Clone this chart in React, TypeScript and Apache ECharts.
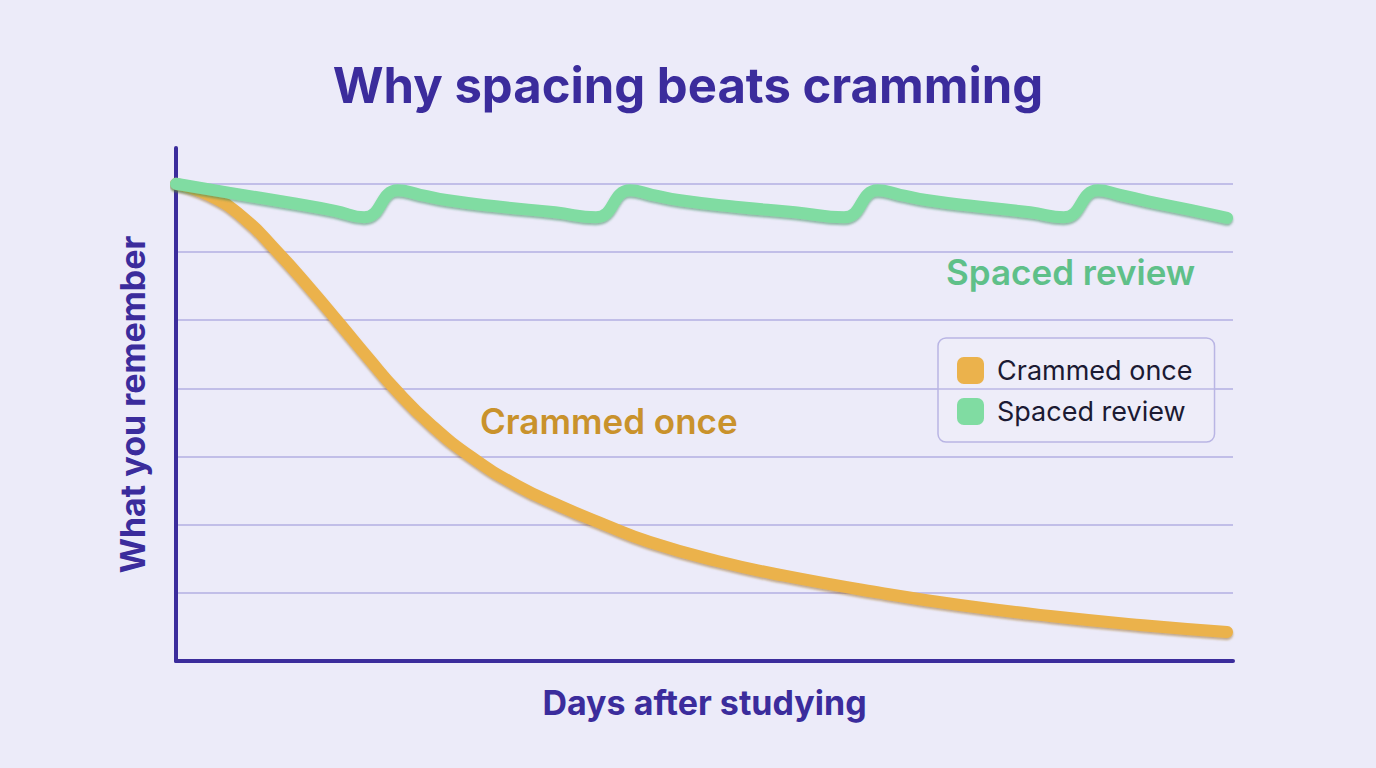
import React, { useEffect, useRef } from "react";
import * as echarts from "echarts";

const titleText = "Why spacing beats cramming";
const xAxisName = "Days after studying";
const yAxisName = "What you remember";
const seriesNames = ["Crammed once", "Spaced review"];

// days after studying, % remembered
const crammedDays = [0, 0.94, 1.9, 2.84, 3.78, 4.63, 5.48, 6.24, 7.21, 8.4, 9.68, 10.9, 12.12, 13.45, 15.36, 17.23, 20.01, 22.25, 24.81, 27.36, 29.83];
const crammedValues = [100, 97.6, 92.98, 86.06, 78.3, 70.86, 63.31, 56.81, 49.69, 42.66, 36.79, 32.49, 28.72, 24.95, 20.96, 17.92, 14.26, 11.74, 9.43, 7.55, 6.08];

const spacedDays = [0, 1.53, 3.24, 4.51, 5.34, 6.3, 6.93, 7.72, 9.2, 10.76, 11.92, 12.89, 13.51, 14.31, 15.87, 17.57, 18.96, 19.92, 20.55, 21.34, 22.82, 24.24, 25.2, 26.17, 26.79, 27.59, 28.78, 29.83];
const spacedValues = [100, 98.11, 96.02, 94.34, 92.98, 98.64, 97.69, 96.54, 95.18, 94.03, 92.98, 98.64, 97.69, 96.54, 95.18, 94.03, 92.98, 98.64, 97.69, 96.54, 95.18, 94.03, 92.98, 98.64, 97.69, 96.33, 94.55, 92.87];

const xMin = 0;
const xMax = 30;
const yMin = 0;
const yMax = 107.5;
const yStep = 100 / 7;

const INK = "#3b2c9c";
const ORANGE = "#ebb24c";
const GREEN = "#80dca2";
const FONT = "Inter, 'Noto Sans', sans-serif";

export default function App() {
  const ref = useRef<HTMLDivElement>(null);
  useEffect(() => {
    document.body.style.margin = "0";
    const chart = echarts.init(ref.current!, undefined, { renderer: "svg" });
    const pairs = (xs: number[], ys: number[]) => xs.map((x, i) => [x, ys[i]]);
    chart.setOption({
      animation: false,
      backgroundColor: "#ecebf9",
      textStyle: { fontFamily: FONT },
      title: {
        text: titleText,
        left: "center",
        top: 56,
        textStyle: { fontFamily: FONT, fontSize: 49, fontWeight: 700, color: INK },
      },
      grid: { left: 176, right: 143, top: 148, bottom: 107, containLabel: false },
      legend: {
        orient: "vertical",
        left: 938,
        top: 338,
        padding: [19, 22, 17, 19],
        itemWidth: 27,
        itemHeight: 27,
        itemGap: 14,
        icon: "roundRect",
        backgroundColor: "rgba(255,255,255,0.12)",
        borderColor: "#b9b5e4",
        borderWidth: 1.5,
        borderRadius: 8,
        itemStyle: { borderWidth: 0, shadowBlur: 0 },
        textStyle: { fontFamily: FONT, fontSize: 27, color: "#1b1a33", padding: [0, 0, 0, 8] },
        data: seriesNames,
      },
      xAxis: {
        type: "value",
        min: xMin,
        max: xMax,
        name: xAxisName,
        nameLocation: "middle",
        nameGap: 24,
        nameTextStyle: { fontFamily: FONT, fontSize: 34, fontWeight: 700, color: INK },
        axisLine: { show: true, lineStyle: { color: INK, width: 4, cap: "round" } },
        axisTick: { show: false },
        axisLabel: { show: false },
        splitLine: { show: false },
      },
      yAxis: {
        type: "value",
        min: yMin,
        max: yMax,
        interval: yStep,
        name: yAxisName,
        nameLocation: "middle",
        nameGap: 27,
        nameTextStyle: { fontFamily: FONT, fontSize: 34, fontWeight: 700, color: INK },
        axisLine: { show: true, lineStyle: { color: INK, width: 4, cap: "round" } },
        axisTick: { show: false },
        axisLabel: { show: false },
        splitLine: {
          show: true,
          showMinLine: false,
          showMaxLine: false,
          lineStyle: { color: "#b3afe2", width: 1.5 },
        },
      },
      graphic: [
        {
          type: "text",
          left: 946,
          top: 254,
          style: { text: seriesNames[1], fontFamily: FONT, fontSize: 35, fontWeight: 600, fill: "#5fc089" },
        },
        {
          type: "text",
          left: 480,
          top: 403,
          style: { text: seriesNames[0], fontFamily: FONT, fontSize: 35, fontWeight: 600, fill: "#c9922c" },
        },
      ],
      series: [
        {
          name: seriesNames[0],
          type: "line",
          data: pairs(crammedDays, crammedValues),
          smooth: 0.5,
          symbol: "none",
          color: ORANGE,
          itemStyle: { color: ORANGE },
          lineStyle: {
            color: ORANGE,
            width: 12,
            cap: "round",
            join: "round",
            shadowColor: "rgba(150,100,20,0.5)",
            shadowBlur: 2,
            shadowOffsetY: 2,
          },
          z: 2,
        },
        {
          name: seriesNames[1],
          type: "line",
          data: pairs(spacedDays, spacedValues),
          smooth: 0.5,
          symbol: "none",
          color: GREEN,
          itemStyle: { color: GREEN },
          lineStyle: {
            color: GREEN,
            width: 12,
            cap: "round",
            join: "round",
            shadowColor: "rgba(40,130,80,0.5)",
            shadowBlur: 2,
            shadowOffsetY: 2,
          },
          z: 3,
        },
      ],
    });
    return () => chart.dispose();
  }, []);
  return <div ref={ref} style={{ width: 1376, height: 768 }} />;
}
